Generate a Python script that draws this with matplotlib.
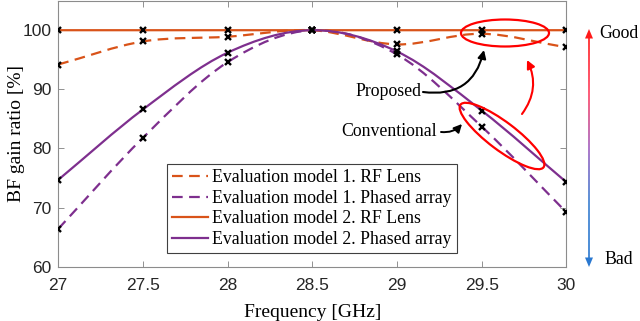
import matplotlib
matplotlib.use("Agg")
import matplotlib.pyplot as plt
import numpy as np
from matplotlib.path import Path
from matplotlib.patches import PathPatch, Ellipse, FancyArrowPatch, Polygon
from matplotlib.lines import Line2D
from matplotlib.collections import LineCollection
from matplotlib.colors import LinearSegmentedColormap

# data
freq = [27, 27.5, 28, 28.5, 29, 29.5, 30]
m1_lens = [94.2, 98.1, 98.9, 100, 97.6, 99.4, 97.1]
m1_phased = [66.4, 81.8, 94.6, 100, 95.9, 83.7, 69.2]
m2_lens = [100, 100, 100, 100, 100, 100, 100]
m2_phased = [74.7, 86.6, 96.2, 100, 96.4, 86.4, 74.3]
series_labels = [
    "Evaluation model 1. RF Lens",
    "Evaluation model 1. Phased array",
    "Evaluation model 2. RF Lens",
    "Evaluation model 2. Phased array",
]
xticks = [27, 27.5, 28, 28.5, 29, 29.5, 30]
yticks = [60, 70, 80, 90, 100]

ORANGE = "#D95319"
PURPLE = "#7E2F8E"
SERIF = ["Liberation Serif", "DejaVu Serif"]
SANS = ["Liberation Sans", "DejaVu Sans"]


def smooth_path(x, y):
    # Catmull-Rom curve through the points, drawn as cubic beziers
    pts = np.column_stack([x, y]).astype(float)
    ext = np.vstack([2 * pts[0] - pts[1], pts, 2 * pts[-1] - pts[-2]])
    verts = [pts[0]]
    codes = [Path.MOVETO]
    for i in range(1, len(ext) - 2):
        p0, p1, p2, p3 = ext[i - 1:i + 3]
        verts += [p1 + (p2 - p0) / 6, p2 - (p3 - p1) / 6, p2]
        codes += [Path.CURVE4] * 3
    return Path(verts, codes)


fig = plt.figure(figsize=(6.4, 3.21), dpi=100)
ax = fig.add_axes([0.091, 0.169, 0.794, 0.829])

styles = [
    (m1_lens, ORANGE, (0, (4.8, 2.9))),
    (m1_phased, PURPLE, (0, (4.8, 2.9))),
    (m2_lens, ORANGE, "-"),
    (m2_phased, PURPLE, "-"),
]
handles = []
for (vals, col, ls), lab in zip(styles, series_labels):
    ax.add_patch(PathPatch(smooth_path(freq, vals), fc="none", ec=col, lw=1.6,
                           ls=ls, zorder=2, capstyle="butt"))
    handles.append(Line2D([], [], color=col, lw=1.6, ls=ls, label=lab))
for vals in [m1_lens, m1_phased, m2_lens, m2_phased]:
    ax.plot(freq, vals, ls="none", marker="x", ms=4.3, mew=1.7, color="black", zorder=3)

ax.set_xlim(27, 30)
ax.set_ylim(60, 105)
ax.set_xticks(xticks)
ax.set_xticklabels([f"{t:g}" for t in xticks])
ax.set_yticks(yticks)
ax.tick_params(direction="in", length=4, width=0.6, color="#808080",
               top=True, right=True, labelsize=12.5, labelcolor="#262626")
ax.tick_params(axis="x", pad=8)
ax.tick_params(axis="y", pad=5)
for lab in ax.get_xticklabels() + ax.get_yticklabels():
    lab.set_family(SANS)
for sp in ax.spines.values():
    sp.set_color("#8c8c8c")
    sp.set_linewidth(0.8)

ax.set_xlabel("Frequency [GHz]", family=SERIF, fontsize=14, labelpad=8)
ax.set_ylabel("BF gain ratio [%]", family=SERIF, fontsize=14, labelpad=-2)

leg = ax.legend(handles=handles, loc="lower left", bbox_to_anchor=(0.214, 0.051),
                prop={"family": SERIF, "size": 12.8}, handlelength=2.0,
                handletextpad=0.25, labelspacing=0.2, borderpad=0.3,
                borderaxespad=0, fancybox=False, framealpha=1)
leg.get_frame().set_edgecolor("#404040")
leg.get_frame().set_linewidth(0.8)

# overlay in pixel coordinates for annotations
ov = fig.add_axes([0, 0, 1, 1], zorder=5)
ov.set_xlim(0, 640)
ov.set_ylim(321, 0)
ov.axis("off")
ov.patch.set_alpha(0)

ov.add_patch(Ellipse((505, 33), 88, 27, fc="none", ec="red", lw=1.6))
ov.add_patch(Ellipse((502, 136), 104, 28, angle=37, fc="none", ec="red", lw=1.6))

ov.text(421, 91, "Proposed", family=SERIF, fontsize=12.8, ha="right", va="center")
ov.text(437, 131, "Conventional", family=SERIF, fontsize=12.8, ha="right", va="center")

head = "-|>,head_length=4,head_width=2"
ov.add_patch(FancyArrowPatch((423, 92), (484, 50), connectionstyle="arc3,rad=0.45",
                             arrowstyle=head, color="black", lw=1.5, mutation_scale=1.2,
                             shrinkA=0, shrinkB=0))
ov.add_patch(FancyArrowPatch((441, 132), (462, 124), connectionstyle="arc3,rad=0.25",
                             arrowstyle=head, color="black", lw=1.4, mutation_scale=1.2,
                             shrinkA=0, shrinkB=0))
ov.add_patch(FancyArrowPatch((522, 114), (527, 60), connectionstyle="arc3,rad=0.3",
                             arrowstyle=head, color="red", lw=1.5, mutation_scale=1.2,
                             shrinkA=0, shrinkB=0))

# Good / Bad gradient arrow
cmap = LinearSegmentedColormap.from_list("gb", ["#ff1a1a", "#ff4060", "#a060c0", "#3a7fd0", "#2a78d0"])
ys = np.linspace(38, 258, 120)
segs = [[(589, ys[i]), (589, ys[i + 1])] for i in range(len(ys) - 1)]
lc = LineCollection(segs, colors=cmap(np.linspace(0, 1, len(segs))), lw=1.2)
ov.add_collection(lc)
ov.add_patch(Polygon([(589, 29), (585, 38.5), (593, 38.5)], closed=True, fc="#ff1a1a", ec="none"))
ov.add_patch(Polygon([(589, 267), (585, 257.5), (593, 257.5)], closed=True, fc="#2a78d0", ec="none"))
ov.text(599, 34, "Good", family=SERIF, fontsize=12.8, ha="left", va="center")
ov.text(604, 260, "Bad", family=SERIF, fontsize=12.8, ha="left", va="center")

fig.savefig("out.png", dpi=100)
